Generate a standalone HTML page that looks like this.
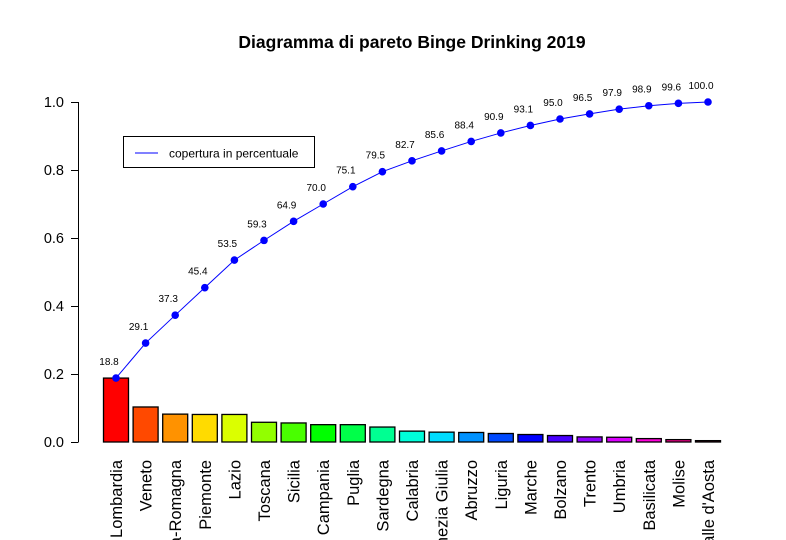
<!DOCTYPE html>
<html><head><meta charset="utf-8"><style>
html,body{margin:0;background:#fff;overflow:hidden;width:786px;height:540px;}
svg{display:block;font-family:"Liberation Sans",Arial,sans-serif;overflow:hidden;}
</style></head><body>
<svg id="chart" width="786" height="540">
<rect width="786" height="540" fill="#fff"/>
<text x="412" y="48" text-anchor="middle" font-size="17.5" font-weight="bold">Diagramma di pareto Binge Drinking 2019</text>
<g id="yaxis"></g>
<g id="bars"></g>
<g id="xlabels"></g>
<g id="line"></g>
<g>
<rect x="123.5" y="136.5" width="191" height="31" fill="#fff" stroke="#000"/>
<line x1="135" y1="153" x2="158" y2="153" stroke="#0000ff"/>
<text x="169" y="157.5" font-size="12">copertura in percentuale</text>
</g>
</svg>
<script>
const categories=["Lombardia","Veneto","Emilia-Romagna","Piemonte","Lazio","Toscana","Sicilia","Campania","Puglia","Sardegna","Calabria","Friuli-Venezia Giulia","Abruzzo","Liguria","Marche","Bolzano","Trento","Umbria","Basilicata","Molise","Valle d'Aosta"];
const shares=[18.8,10.3,8.2,8.1,8.1,5.8,5.6,5.1,5.1,4.4,3.2,2.9,2.8,2.5,2.2,1.9,1.5,1.4,1.0,0.7,0.4];
const yTicks=[0,0.2,0.4,0.6,0.8,1.0];
const yTickLabels=["0.0","0.2","0.4","0.6","0.8","1.0"];
const NS="http://www.w3.org/2000/svg";
function mk(t,a,p){const e=document.createElementNS(NS,t);for(const k in a)e.setAttribute(k,a[k]);p.appendChild(e);return e;}
const y0=442,yH=340;
function yS(v){return y0-v*yH;}
const step=29.6,x0=116;
function xS(i){return x0+i*step;}
const total=shares.reduce((a,b)=>a+b,0);
const ya=document.getElementById('yaxis');
mk('line',{x1:78.5,y1:yS(0),x2:78.5,y2:yS(1),stroke:'#000'},ya);
yTicks.forEach((t,i)=>{
  mk('line',{x1:71,y1:yS(t)+0.5,x2:78.5,y2:yS(t)+0.5,stroke:'#000'},ya);
  const tx=mk('text',{x:64,y:yS(t)+5,'text-anchor':'end','font-size':14.5},ya);
  tx.textContent=yTickLabels[i];
  
  
});
const bg=document.getElementById('bars'),xl=document.getElementById('xlabels'),lg=document.getElementById('line');
let cum=0;const pts=[];
shares.forEach((s,i)=>{
  const v=s/total;
  const hue=i/categories.length*360;
  const r=mk('rect',{x:xS(i)-12.5,y:yS(v),width:25,height:v*yH,fill:`hsl(${hue},100%,50%)`,stroke:'#000','stroke-width':1.3},bg);
  
  
  const t=mk('text',{x:0,y:0,'text-anchor':'end','font-size':16.5,transform:`translate(${xS(i)+6},460) rotate(-90)`},xl);
  t.textContent=categories[i];
  
  
  cum+=s;
  pts.push([xS(i),yS(cum/total),cum/total*100]);
});
mk('polyline',{points:pts.map(p=>p[0]+','+p[1]).join(' '),fill:'none',stroke:'#0000ff','stroke-width':1},lg);
pts.forEach(p=>{
  const c=mk('circle',{cx:p[0],cy:p[1],r:3.8,fill:'#0000ff'},lg);
  
  
  const t=mk('text',{x:p[0]-7,y:p[1]-13,'text-anchor':'middle','font-size':10},lg);
  t.textContent=p[2].toFixed(1);
  
  
});
</script>
</body></html>
